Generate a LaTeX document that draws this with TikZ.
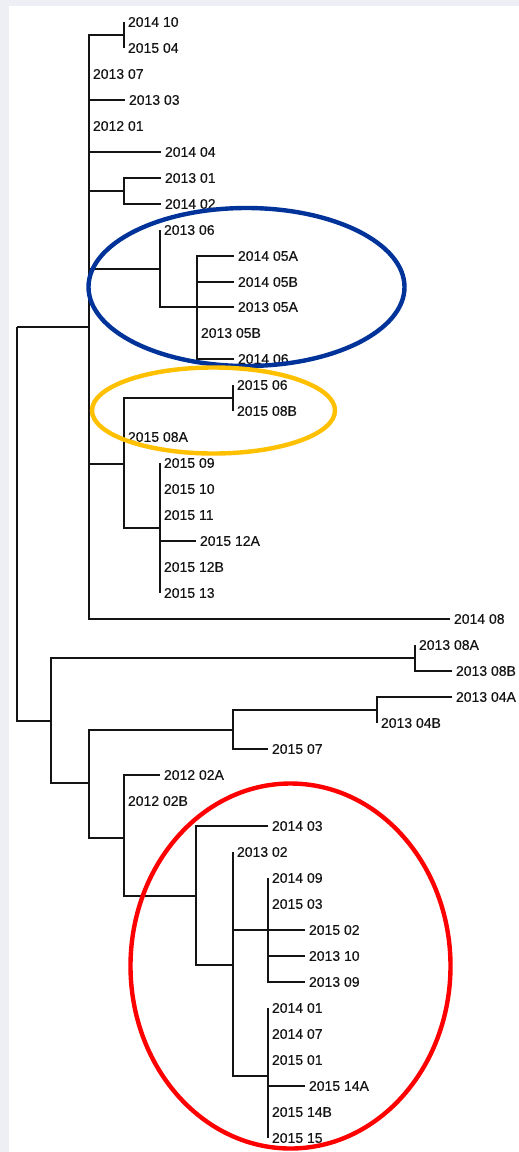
\documentclass[tikz,border=0pt]{standalone}
\usepackage{fontspec}
\setmainfont{Liberation Sans}
\newfontfamily\leaffont[FakeBold=0.35]{Liberation Sans}
\definecolor{bgc}{HTML}{EEEFF5}
\definecolor{ringblue}{HTML}{003399}
\definecolor{ringgold}{HTML}{FFC000}
\definecolor{ringred}{HTML}{FF0000}
\begin{document}
\begin{tikzpicture}[x=1pt,y=-1pt,
  br/.style={line width=1.8pt, black!92},
  leaf/.style={anchor=west, inner xsep=3.8pt, inner ysep=0pt, font=\leaffont\fontsize{14}{14}\selectfont, text=black!92},
  ring/.style={line width=4.4pt}]
\fill[bgc] (0,0) rectangle (519,1152);
\fill[white] (9,6) rectangle (519,1152);
\useasboundingbox (0,0) rectangle (519,1152);
% internal nodes
\coordinate (R) at (17,327);
\coordinate (A) at (89,327);
\coordinate (A1) at (124,35);
\coordinate (A2) at (124,191);
\coordinate (BL) at (160,269);
\coordinate (BL2) at (197,307);
\coordinate (O) at (124,464);
\coordinate (O1) at (233,398);
\coordinate (O2) at (160,528);
\coordinate (B) at (51,721);
\coordinate (B1) at (415,658);
\coordinate (B2) at (89,783);
\coordinate (B3) at (233,730);
\coordinate (B5) at (377,710);
\coordinate (B4) at (124,838);
\coordinate (R1) at (196,896);
\coordinate (R2) at (233,965);
\coordinate (R3) at (268,930);
\coordinate (R4) at (268,1076);
% leaves
\node[leaf] (l1) at (124,22) {2014 10};
\node[leaf] (l2) at (124,48) {2015 04};
\node[leaf] (l3) at (89,74) {2013 07};
\node[leaf] (l4) at (125,100) {2013 03};
\node[leaf] (l5) at (89,126) {2012 01};
\node[leaf] (l6) at (161,152) {2014 04};
\node[leaf] (l7) at (161,178) {2013 01};
\node[leaf] (l8) at (161,204) {2014 02};
\node[leaf] (l9) at (160,230) {2013 06};
\node[leaf] (l10) at (234,256) {2014 05A};
\node[leaf] (l11) at (234,282) {2014 05B};
\node[leaf] (l12) at (234,307) {2013 05A};
\node[leaf] (l13) at (197,333) {2013 05B};
\node[leaf] (l14) at (234,359) {2014 06};
\node[leaf] (l15) at (233,385) {2015 06};
\node[leaf] (l16) at (233,411) {2015 08B};
\node[leaf] (l17) at (124,437) {2015 08A};
\node[leaf] (l18) at (160,463) {2015 09};
\node[leaf] (l19) at (160,489) {2015 10};
\node[leaf] (l20) at (160,515) {2015 11};
\node[leaf] (l21) at (196,541) {2015 12A};
\node[leaf] (l22) at (160,567) {2015 12B};
\node[leaf] (l23) at (160,593) {2015 13};
\node[leaf] (l24) at (450,619) {2014 08};
\node[leaf] (l25) at (415,645) {2013 08A};
\node[leaf] (l26) at (452,671) {2013 08B};
\node[leaf] (l27) at (452,697) {2013 04A};
\node[leaf] (l28) at (377,723) {2013 04B};
\node[leaf] (l29) at (268,749) {2015 07};
\node[leaf] (l30) at (160,775) {2012 02A};
\node[leaf] (l31) at (124,801) {2012 02B};
\node[leaf] (l32) at (268,826) {2014 03};
\node[leaf] (l33) at (233,852) {2013 02};
\node[leaf] (l34) at (268,878) {2014 09};
\node[leaf] (l35) at (268,904) {2015 03};
\node[leaf] (l36) at (305,930) {2015 02};
\node[leaf] (l37) at (305,956) {2013 10};
\node[leaf] (l38) at (305,982) {2013 09};
\node[leaf] (l39) at (268,1008) {2014 01};
\node[leaf] (l40) at (268,1034) {2014 07};
\node[leaf] (l41) at (268,1060) {2015 01};
\node[leaf] (l42) at (305,1086) {2015 14A};
\node[leaf] (l43) at (268,1112) {2015 14B};
\node[leaf] (l44) at (268,1138) {2015 15};
% branches
\draw[br] (R) |- (A);
\draw[br] (R) |- (B);
\draw[br] (A) |- (A1);
\draw[br] (A1) |- (l1.west);
\draw[br] (A1) |- (l2.west);
\draw[br] (A) |- (l3.west);
\draw[br] (A) |- (l4.west);
\draw[br] (A) |- (l5.west);
\draw[br] (A) |- (l6.west);
\draw[br] (A) |- (A2);
\draw[br] (A2) |- (l7.west);
\draw[br] (A2) |- (l8.west);
\draw[br] (A) |- (BL);
\draw[br] (BL) |- (l9.west);
\draw[br] (BL) |- (BL2);
\draw[br] (BL2) |- (l10.west);
\draw[br] (BL2) |- (l11.west);
\draw[br] (BL2) |- (l12.west);
\draw[br] (BL2) |- (l13.west);
\draw[br] (BL2) |- (l14.west);
\draw[br] (A) |- (O);
\draw[br] (O) |- (O1);
\draw[br] (O1) |- (l15.west);
\draw[br] (O1) |- (l16.west);
\draw[br] (O) |- (l17.west);
\draw[br] (O) |- (O2);
\draw[br] (O2) |- (l18.west);
\draw[br] (O2) |- (l19.west);
\draw[br] (O2) |- (l20.west);
\draw[br] (O2) |- (l21.west);
\draw[br] (O2) |- (l22.west);
\draw[br] (O2) |- (l23.west);
\draw[br] (A) |- (l24.west);
\draw[br] (B) |- (B1);
\draw[br] (B1) |- (l25.west);
\draw[br] (B1) |- (l26.west);
\draw[br] (B) |- (B2);
\draw[br] (B2) |- (B3);
\draw[br] (B3) |- (B5);
\draw[br] (B5) |- (l27.west);
\draw[br] (B5) |- (l28.west);
\draw[br] (B3) |- (l29.west);
\draw[br] (B2) |- (B4);
\draw[br] (B4) |- (l30.west);
\draw[br] (B4) |- (l31.west);
\draw[br] (B4) |- (R1);
\draw[br] (R1) |- (l32.west);
\draw[br] (R1) |- (R2);
\draw[br] (R2) |- (l33.west);
\draw[br] (R2) |- (R3);
\draw[br] (R3) |- (l34.west);
\draw[br] (R3) |- (l35.west);
\draw[br] (R3) |- (l36.west);
\draw[br] (R3) |- (l37.west);
\draw[br] (R3) |- (l38.west);
\draw[br] (R2) |- (R4);
\draw[br] (R4) |- (l39.west);
\draw[br] (R4) |- (l40.west);
\draw[br] (R4) |- (l41.west);
\draw[br] (R4) |- (l42.west);
\draw[br] (R4) |- (l43.west);
\draw[br] (R4) |- (l44.west);
% highlight rings
\draw[ring, ringblue] (246.5,287) ellipse [x radius=158, y radius=79];
\draw[ring, ringgold] (213.5,410.5) ellipse [x radius=121.5, y radius=43];
\draw[ring, ringred] (290.5,966) ellipse [x radius=160, y radius=182.5];
\end{tikzpicture}
\end{document}
